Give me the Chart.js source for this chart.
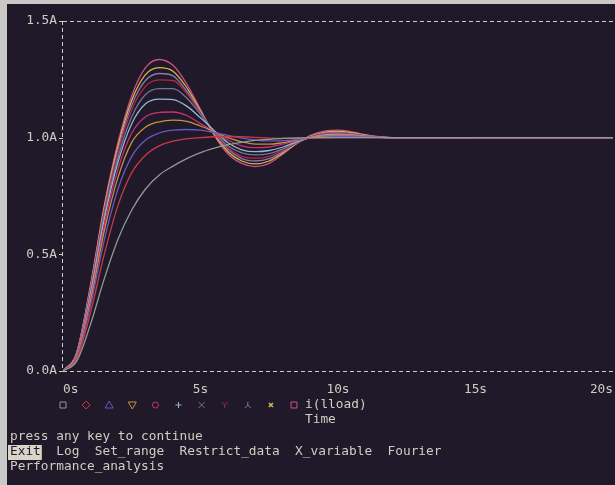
<!DOCTYPE html>
<html><head><meta charset="utf-8">
<script src="https://cdn.jsdelivr.net/npm/chart.js@4.4.0/dist/chart.umd.min.js"></script>
<style>html,body{margin:0;padding:0;background:#c9c9c7;overflow:hidden}
#wrap{position:absolute;left:0;top:0;width:615px;height:485px}</style>
</head><body><div id="wrap"><canvas id="c" width="615" height="485"></canvas></div>
<script>
// ---- data ----
const times = [0,0.5,1,1.5,2,2.5,3,3.5,4,4.5,5,5.5,6,6.5,7,7.5,8,8.5,9,9.5,10,10.5,11,11.5,12,13,14,15,16,17,18,19,20];
const trace0  = [0,0.042,0.20,0.395,0.565,0.69,0.78,0.84,0.878,0.91,0.936,0.955,0.97,0.98,0.988,0.993,0.997,0.999,1.0,1,1,1,1,1,1,1,1,1,1,1,1,1,1];
const trace1  = [0,0.05,0.25,0.50,0.71,0.85,0.925,0.965,0.985,0.995,1.0,1.004,1.005,1.004,1.001,0.998,0.997,0.997,0.998,0.999,1.0,1,1,1,1,1,1,1,1,1,1,1,1];
const trace2  = [0,0.055,0.28,0.56,0.78,0.92,0.99,1.02,1.032,1.035,1.032,1.022,1.01,0.998,0.99,0.986,0.987,0.992,0.998,1.002,1.004,1.004,1.003,1.001,1.0,1,1,1,1,1,1,1,1];
const trace3  = [0,0.06,0.30,0.60,0.83,0.98,1.045,1.068,1.075,1.07,1.05,1.025,1.0,0.982,0.972,0.972,0.979,0.99,1.0,1.006,1.008,1.007,1.004,1.001,1.0,1,1,1,1,1,1,1,1];
const trace4  = [0,0.066,0.315,0.625,0.865,1.02,1.09,1.108,1.11,1.095,1.06,1.025,0.99,0.965,0.957,0.96,0.972,0.987,1.0,1.008,1.011,1.009,1.005,1.002,1.0,1,1,1,1,1,1,1,1];
const trace5  = [0,0.07,0.33,0.65,0.895,1.06,1.145,1.165,1.163,1.135,1.085,1.03,0.978,0.948,0.94,0.945,0.96,0.982,1.0,1.011,1.014,1.011,1.006,1.002,1.0,1,1,1,1,1,1,1,1];
const trace6  = [0,0.072,0.34,0.665,0.915,1.09,1.185,1.21,1.21,1.17,1.10,1.025,0.965,0.935,0.926,0.932,0.952,0.98,1.002,1.013,1.016,1.013,1.007,1.002,1.0,1,1,1,1,1,1,1,1];
const trace7  = [0,0.074,0.35,0.68,0.935,1.12,1.22,1.248,1.245,1.19,1.105,1.022,0.957,0.92,0.912,0.92,0.946,0.978,1.003,1.016,1.019,1.015,1.008,1.002,1.0,0.999,1,1,1,1,1,1,1];
const trace8  = [0,0.076,0.355,0.69,0.95,1.14,1.245,1.275,1.265,1.20,1.11,1.02,0.95,0.91,0.90,0.91,0.94,0.977,1.004,1.019,1.023,1.018,1.009,1.003,0.999,0.999,1,1,1,1,1,1,1];
const trace9  = [0,0.078,0.36,0.70,0.965,1.16,1.27,1.30,1.285,1.215,1.115,1.015,0.94,0.90,0.888,0.90,0.935,0.975,1.006,1.023,1.027,1.021,1.011,1.003,0.999,0.998,0.999,1,1,1,1,1,1];
const trace10 = [0,0.08,0.37,0.71,0.98,1.18,1.30,1.335,1.31,1.23,1.12,1.01,0.93,0.89,0.876,0.89,0.93,0.975,1.01,1.028,1.032,1.025,1.013,1.004,0.998,0.997,0.999,1,1,1,1,1,1];
const traceColors = ['#8f9a92','#c83a48','#6a58c0','#c89040','#c8307a','#90b8d8','#707890','#b02848','#8878b0','#d8b848','#d05080'];
const markerShapes = ['square','diamond','triangle','invtriangle','circle','plus','cross','y','lambda','x','square'];
const yTickValues = [0,0.5,1.0,1.5];
const xTickValues = [0,5,10,15,20];
const traceLabel = 'i(lload)';
const xAxisTitle = 'Time';
const promptLine = 'press any key to continue';
const menuItems = ['Exit','Log','Set_range','Restrict_data','X_variable','Fourier'];
const menuLine2 = 'Performance_analysis';

const traces = [trace0,trace1,trace2,trace3,trace4,trace5,trace6,trace7,trace8,trace9,trace10];
const FONT = "'DejaVu Sans Mono', 'Liberation Mono', monospace";
const TXT = '#d2cdc2';
const BG = '#1f1929';

function drawMarker(ctx, shape, cx, cy, color){
  const s = 3;
  ctx.save(); ctx.strokeStyle = color; ctx.lineWidth = 1; ctx.beginPath();
  switch(shape){
    case 'square': ctx.rect(cx-s, cy-s, 2*s, 2*s); break;
    case 'diamond': ctx.moveTo(cx,cy-s-1); ctx.lineTo(cx+s+1,cy); ctx.lineTo(cx,cy+s+1); ctx.lineTo(cx-s-1,cy); ctx.closePath(); break;
    case 'triangle': ctx.moveTo(cx,cy-s-1); ctx.lineTo(cx+s+1,cy+s); ctx.lineTo(cx-s-1,cy+s); ctx.closePath(); break;
    case 'invtriangle': ctx.moveTo(cx-s-1,cy-s); ctx.lineTo(cx+s+1,cy-s); ctx.lineTo(cx,cy+s+1); ctx.closePath(); break;
    case 'circle': ctx.arc(cx,cy,s,0,Math.PI*2); break;
    case 'plus': ctx.moveTo(cx-s,cy); ctx.lineTo(cx+s,cy); ctx.moveTo(cx,cy-s); ctx.lineTo(cx,cy+s); break;
    case 'cross': ctx.moveTo(cx-s,cy-s); ctx.lineTo(cx+s,cy+s); ctx.moveTo(cx+s,cy-s); ctx.lineTo(cx-s,cy+s); break;
    case 'y': ctx.moveTo(cx-s,cy-s); ctx.lineTo(cx,cy); ctx.lineTo(cx+s,cy-s); ctx.moveTo(cx,cy); ctx.lineTo(cx,cy+s); break;
    case 'lambda': ctx.moveTo(cx,cy-s); ctx.lineTo(cx,cy); ctx.moveTo(cx-s,cy+s); ctx.lineTo(cx,cy); ctx.lineTo(cx+s,cy+s); break;
    case 'x': ctx.lineWidth = 1.6; ctx.moveTo(cx-2,cy-2); ctx.lineTo(cx+2,cy+2); ctx.moveTo(cx+2,cy-2); ctx.lineTo(cx-2,cy+2); break;
  }
  ctx.stroke(); ctx.restore();
}

const screenPlugin = {
  id: 'screen',
  beforeDraw(chart){
    const ctx = chart.ctx;
    ctx.save();
    ctx.fillStyle = '#c9c9c7'; ctx.fillRect(0,0,chart.width,chart.height);
    ctx.fillStyle = BG; ctx.fillRect(7,4,chart.width-7,chart.height-4);
    ctx.restore();
  },
  beforeDatasetsDraw(chart){
    const ctx = chart.ctx, xs = chart.scales.x, ys = chart.scales.y;
    const x0 = xs.getPixelForValue(0), yTop = ys.getPixelForValue(1.5), yBot = ys.getPixelForValue(0);
    ctx.save();
    ctx.strokeStyle = TXT; ctx.lineWidth = 1; ctx.setLineDash([4,3]);
    ctx.beginPath();
    ctx.moveTo(x0, Math.round(yTop)+0.5); ctx.lineTo(chart.width, Math.round(yTop)+0.5);
    ctx.moveTo(x0, Math.round(yBot)+0.5); ctx.lineTo(chart.width, Math.round(yBot)+0.5);
    ctx.moveTo(Math.round(x0)-0.5, yTop); ctx.lineTo(Math.round(x0)-0.5, yBot);
    ctx.stroke();
    ctx.setLineDash([]);
    ctx.beginPath();
    yTickValues.forEach(v => { const y = Math.round(ys.getPixelForValue(v))+0.5; ctx.moveTo(x0-4,y); ctx.lineTo(x0,y); });
    ctx.stroke();
    ctx.restore();
  },
  afterDraw(chart){
    const ctx = chart.ctx;
    ctx.save();
    chart.data.datasets.forEach((ds,i) => drawMarker(ctx, markerShapes[i], 63 + 23.1*i, 405, ds.borderColor));
    ctx.font = '12.8px ' + FONT; ctx.textBaseline = 'middle'; ctx.fillStyle = TXT;
    ctx.fillText(traceLabel, 305, 405);
    ctx.fillText(xAxisTitle, 305, 420);
    ctx.fillText(promptLine, 10, 437);
    const cw = ctx.measureText('M').width;
    let x = 10;
    menuItems.forEach((m,i) => {
      const w = ctx.measureText(m).width;
      if (i === 0){ ctx.fillStyle = '#d9d4c8'; ctx.fillRect(x-2, 445, w+3, 15); ctx.fillStyle = '#1f1929'; ctx.fillText(m, x, 452); ctx.fillStyle = TXT; }
      else ctx.fillText(m, x, 452);
      x += w + 2*cw;
    });
    ctx.fillText(menuLine2, 10, 467);
    ctx.restore();
  }
};

new Chart(document.getElementById('c'), {
  type: 'line',
  data: {
    datasets: traces.map((t,i) => ({
      label: traceLabel + ' ' + i,
      data: times.map((x,k) => ({x, y: t[k]})),
      borderColor: traceColors[i], borderWidth: 1.3, pointRadius: 0,
      cubicInterpolationMode: 'monotone', fill: false
    }))
  },
  options: {
    responsive: false, animation: false, devicePixelRatio: 1,
    layout: { autoPadding: false, padding: { left: 0, top: 21, right: 2, bottom: 0 } },
    plugins: { legend: { display: false }, tooltip: { enabled: false } },
    scales: {
      x: {
        type: 'linear', min: 0, max: 20,
        afterBuildTicks(s){ s.ticks = xTickValues.map(v => ({value: v})); },
        afterFit(s){ s.height = 114; s.paddingLeft = 0; s.paddingRight = 0; },
        grid: { display: false, drawTicks: false }, border: { display: false },
        ticks: { align: 'inner', padding: 11, maxRotation: 0, color: TXT, font: { family: FONT, size: 12.8 }, callback: v => v + 's' }
      },
      y: {
        min: 0, max: 1.5,
        afterBuildTicks(s){ s.ticks = yTickValues.map(v => ({value: v})); },
        afterFit(s){ s.width = 63; },
        grid: { display: false, drawTicks: false }, border: { display: false },
        ticks: { padding: 6, color: TXT, font: { family: FONT, size: 12.8 }, callback: v => v.toFixed(1) + 'A' }
      }
    }
  },
  plugins: [screenPlugin]
});
</script></body></html>
